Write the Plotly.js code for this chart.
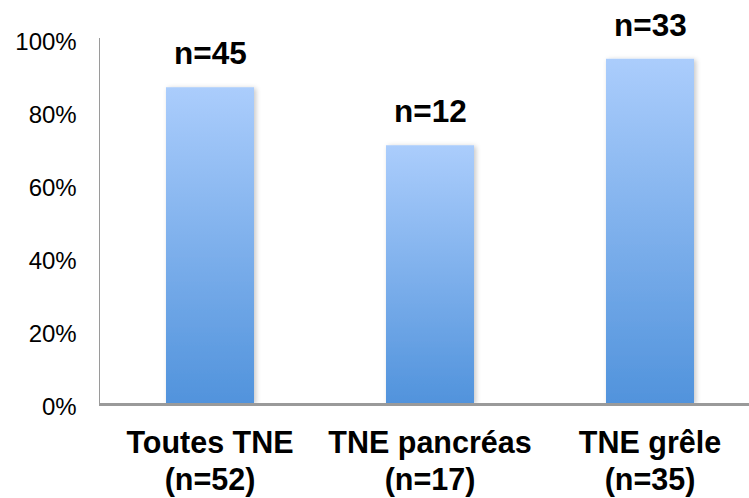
<!DOCTYPE html>
<html>
<head>
<meta charset="utf-8">
<script src="https://cdn.plot.ly/plotly-3.0.1.min.js"></script>
<style>
  html, body { margin: 0; padding: 0; background: #fff; }
  #chart { width: 749px; height: 498px; }
</style>
</head>
<body>
<div id="chart"></div>
<script>
// Groups of neuroendocrine tumours, patients with the outcome and group totals
const groups = ['Toutes TNE', 'TNE pancréas', 'TNE grêle'];
const responders = [45, 12, 33];
const totals = [52, 17, 35];

const shares = responders.map((n, i) => n / totals[i]);
const tickLabels = groups.map((g, i) => g + '<br>(n=' + totals[i] + ')');
const barLabels = responders.map(n => 'n=' + n);

const FONT = '"Liberation Sans", Arial, sans-serif';

const trace = {
  type: 'bar',
  x: [0, 1, 2],
  y: shares,
  width: 0.4,
  marker: { color: '#7db0ec', line: { width: 0 } },
  hoverinfo: 'none'
};

const annotations = shares.map((v, i) => ({
  x: i, y: v, xref: 'x', yref: 'y',
  text: barLabels[i],
  showarrow: false,
  yanchor: 'bottom',
  yshift: 14,
  font: { family: FONT, size: 31.5, color: '#000', weight: 'bold' }
}));

const layout = {
  width: 749, height: 498,
  margin: { l: 100, r: 0, t: 38, b: 95 },
  paper_bgcolor: '#fff', plot_bgcolor: '#fff',
  showlegend: false,
  font: { family: FONT, color: '#000' },
  xaxis: {
    range: [-0.5, 2.45],
    tickmode: 'array',
    tickvals: [0, 1, 2],
    ticktext: tickLabels,
    ticks: '',
    ticklabelstandoff: 11,
    tickfont: { family: FONT, size: 30.5, color: '#000', weight: 'bold' },
    showline: true, linecolor: '#9a9a9a', linewidth: 2.5,
    showgrid: false, zeroline: false, fixedrange: true
  },
  yaxis: {
    range: [0, 1],
    dtick: 0.2,
    tickformat: '.0%',
    ticks: '',
    ticklabelstandoff: 17,
    ticklabelshift: 4,
    tickfont: { family: FONT, size: 24, color: '#000' },
    showline: true, linecolor: '#9a9a9a', linewidth: 1.5,
    showgrid: false, zeroline: false, fixedrange: true
  },
  annotations: annotations
};

Plotly.newPlot('chart', [trace], layout, { displayModeBar: false, staticPlot: true }).then(gd => {
  const svg = gd.querySelector('.main-svg');
  const ns = 'http://www.w3.org/2000/svg';

  // slightly tighter spacing for the second line of each category label
  gd.querySelectorAll('.xtick text tspan.line').forEach(t => {
    const dy = t.getAttribute('dy');
    if (dy && parseFloat(dy) !== 0) t.setAttribute('dy', '37px');
  });

  // vertical gradient fill and soft shadow on the bars
  let defs = svg.querySelector('defs');
  if (!defs) { defs = document.createElementNS(ns, 'defs'); svg.insertBefore(defs, svg.firstChild); }
  const grad = document.createElementNS(ns, 'linearGradient');
  grad.setAttribute('id', 'barGrad');
  grad.setAttribute('x1', '0'); grad.setAttribute('y1', '0');
  grad.setAttribute('x2', '0'); grad.setAttribute('y2', '1');
  [['0', '#abcdfc'], ['1', '#5193dc']].forEach(([o, c]) => {
    const s = document.createElementNS(ns, 'stop');
    s.setAttribute('offset', o); s.setAttribute('stop-color', c);
    grad.appendChild(s);
  });
  defs.appendChild(grad);
  const filt = document.createElementNS(ns, 'filter');
  filt.setAttribute('id', 'barShadow');
  filt.setAttribute('x', '-20%'); filt.setAttribute('y', '-10%');
  filt.setAttribute('width', '140%'); filt.setAttribute('height', '120%');
  const ds = document.createElementNS(ns, 'feDropShadow');
  ds.setAttribute('dx', '2'); ds.setAttribute('dy', '1');
  ds.setAttribute('stdDeviation', '2.5');
  ds.setAttribute('flood-color', '#000'); ds.setAttribute('flood-opacity', '0.22');
  filt.appendChild(ds);
  defs.appendChild(filt);
  gd.querySelectorAll('.bars .point path').forEach(p => {
    p.style.fill = 'url(#barGrad)';
    p.setAttribute('filter', 'url(#barShadow)');
  });
});
</script>
</body>
</html>
